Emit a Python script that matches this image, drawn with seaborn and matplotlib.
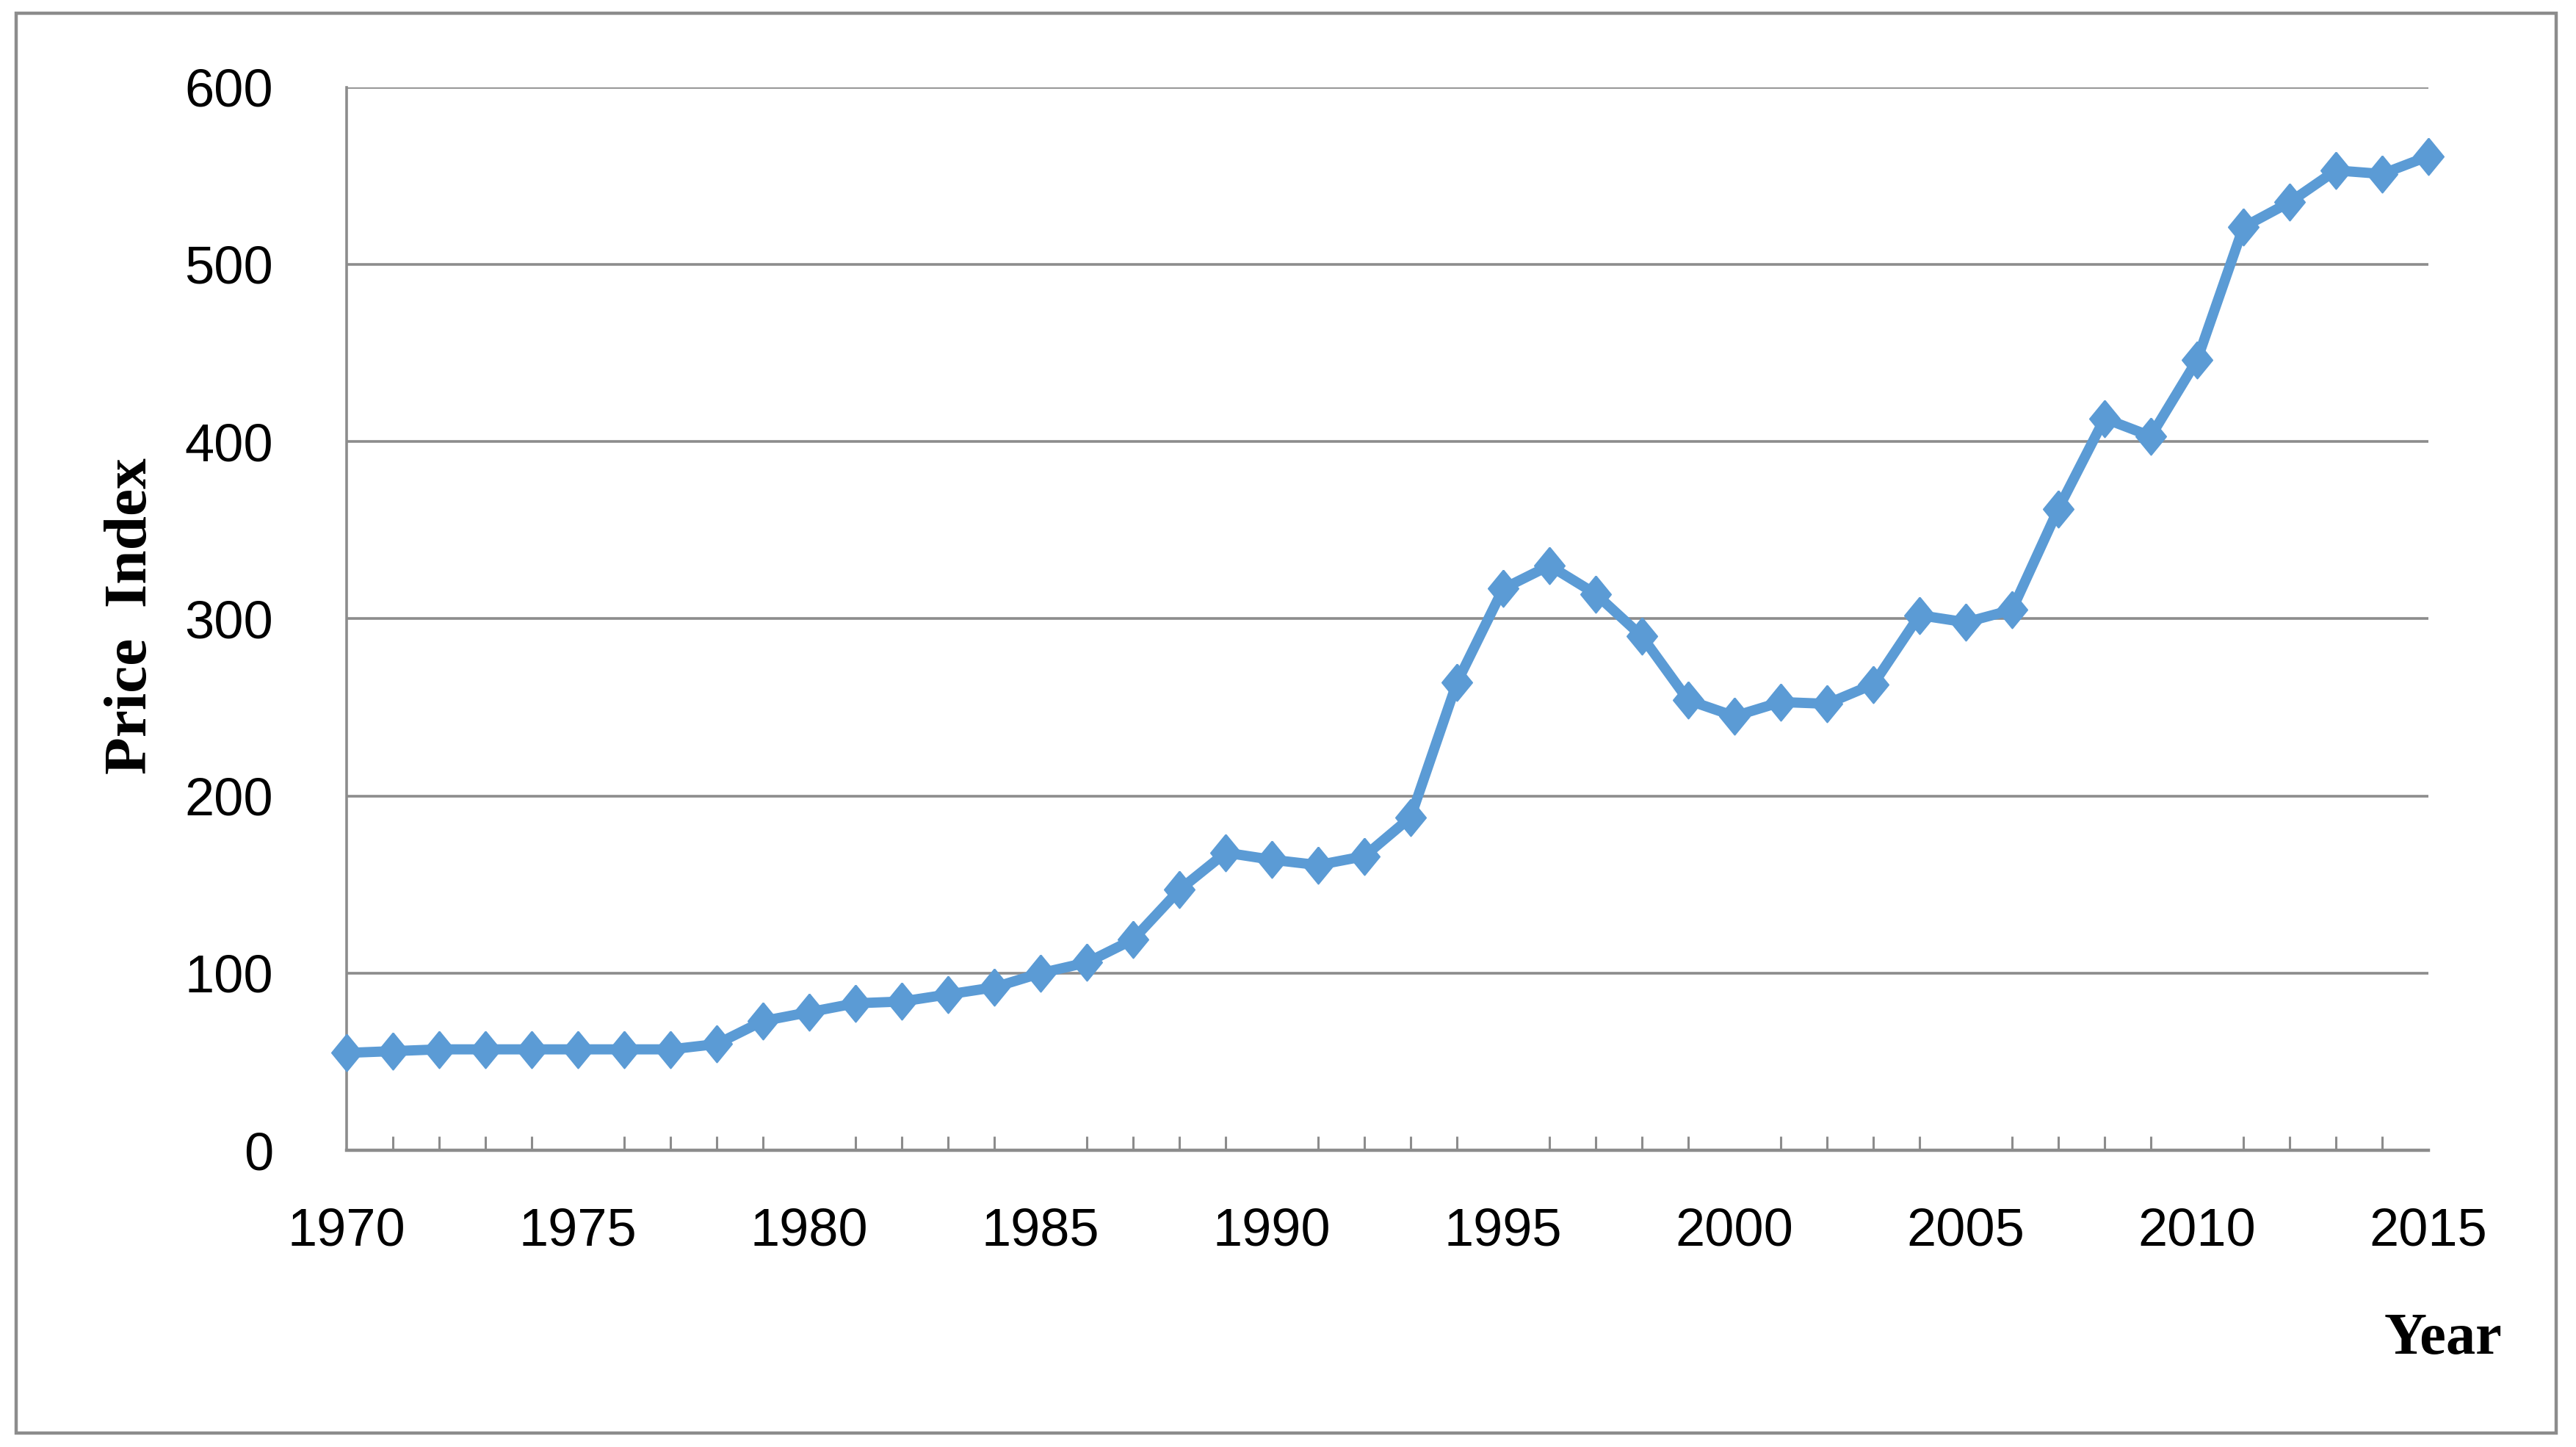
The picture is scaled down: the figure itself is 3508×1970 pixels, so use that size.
import matplotlib
matplotlib.use("Agg")
import matplotlib.pyplot as plt
import seaborn as sns
import numpy as np
import pandas as pd
from matplotlib.patches import Rectangle
from matplotlib.ticker import MultipleLocator

years = list(range(1970, 2016))
price_index = [55, 56, 57, 57, 57, 57, 57, 57, 60, 73,
               78, 83, 84, 88, 92, 100, 106, 119, 147, 168,
               164, 161, 166, 188, 264, 317, 330, 314, 290, 254,
               245, 253, 252, 263, 302, 298, 305, 362, 413, 403,
               446, 521, 535, 553, 551, 561]
y_ticks = [0, 100, 200, 300, 400, 500, 600]
x_ticks = [1970, 1975, 1980, 1985, 1990, 1995, 2000, 2005, 2010, 2015]

df = pd.DataFrame({"Year": years, "Price Index": price_index})

sns.set_theme(style="white")
tick_family = ['Liberation Sans Narrow', 'DejaVu Sans Condensed', 'Liberation Sans', 'DejaVu Sans']
label_family = ['Liberation Serif', 'DejaVu Serif']

fig = plt.figure(figsize=(17.54, 9.85), dpi=200)
ax = fig.add_axes([0.1346, 0.205, 0.9427 - 0.1346, 0.9398 - 0.205])

grey = "#8c8c8c"
blue = "#5b9bd5"
diamond = [(0, 1), (0.82, 0), (0, -1), (-0.82, 0), (0, 1)]

sns.lineplot(data=df, x="Year", y="Price Index", ax=ax, color=blue,
             linewidth=5, marker=diamond, markersize=18,
             markeredgecolor=blue, markerfacecolor=blue, zorder=3, clip_on=False)

ax.set_xlim(1970, 2015)
ax.set_ylim(0, 600)
ax.set_yticks(y_ticks)
ax.set_xticks(x_ticks)
ax.xaxis.set_minor_locator(MultipleLocator(1))
ax.yaxis.grid(True, color=grey, linewidth=1.3)
ax.xaxis.grid(False)
ax.set_axisbelow(True)

for s in ["top", "right"]:
    ax.spines[s].set_visible(False)
ax.spines["left"].set_color(grey)
ax.spines["left"].set_linewidth(1.3)
ax.spines["bottom"].set_color(grey)
ax.spines["bottom"].set_linewidth(1.6)

ax.tick_params(axis="x", which="major", direction="inout", length=20, width=1.1,
               color=grey, pad=18, labelsize=26, labelcolor="black")
ax.tick_params(axis="x", which="minor", direction="in", length=7, width=1.1,
               color=grey, bottom=True)
ax.tick_params(axis="y", which="both", length=0, pad=36, labelsize=26, labelcolor="black")
for lab in ax.get_xticklabels() + ax.get_yticklabels():
    lab.set_family(tick_family)

ax.set_xlabel("")
ax.set_ylabel("")
fig.text(179 / 3508, 1 - 839 / 1970, "Price  Index", rotation=90, ha="center", va="center",
         fontsize=30, fontweight="bold", family=label_family, color="black")
fig.text(3327 / 3508, 1 - 1823 / 1970, "Year", ha="center", va="center",
         fontsize=29, fontweight="bold", family=label_family, color="black")

fig.patches.append(Rectangle((22 / 3508, 1 - 1951 / 1970), (3481 - 22) / 3508,
                             (1951 - 18) / 1970, transform=fig.transFigure,
                             fill=False, edgecolor=grey, linewidth=1.6))

fig.savefig("out.png", dpi=200)
